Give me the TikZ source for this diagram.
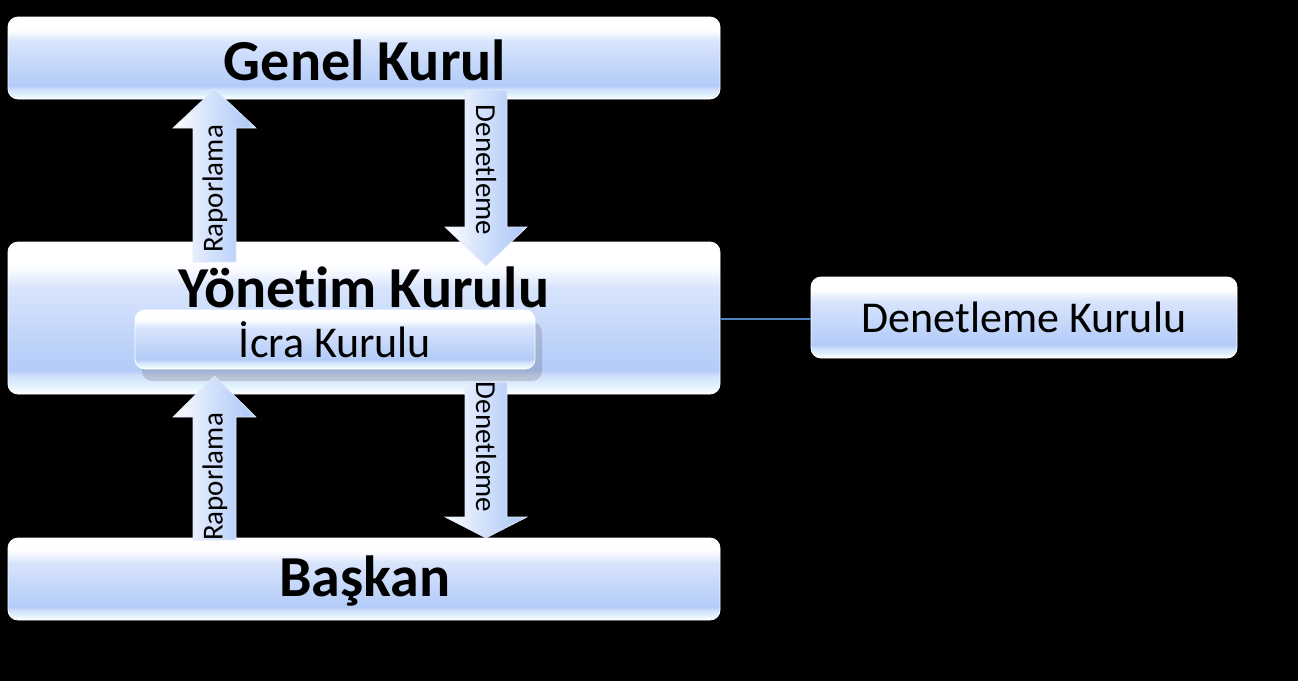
\documentclass[tikz,border=0pt]{standalone}
\usepackage{fontspec}
\setmainfont{Carlito}[Ligatures=NoCommon]
\usetikzlibrary{shadows}
\definecolor{boxblue}{RGB}{178,203,248}
\definecolor{boxlight}{RGB}{216,228,252}
\definecolor{linkblue}{RGB}{79,129,189}
\pgfdeclareverticalshading{gloss}{100bp}{color(0bp)=(white); color(25bp)=(white); color(28bp)=(white!90!cyan!50!boxlight); color(31bp)=(white!40!boxblue); color(33bp)=(boxblue); color(60bp)=(boxlight); color(66bp)=(white!85!boxlight); color(68bp)=(white); color(100bp)=(white)}
\pgfdeclarehorizontalshading{arrowgloss}{100bp}{color(0bp)=(white); color(25bp)=(white); color(45bp)=(boxlight); color(70bp)=(boxblue); color(75bp)=(white!40!boxblue); color(100bp)=(white)}
\tikzset{
  glossbox/.style={rectangle, rounded corners=10pt, draw=white, line width=0.8pt,
    shading=gloss, inner sep=0pt},
  bigtext/.style={font=\fontsize{58}{64}\selectfont\bfseries, text=black},
  midtext/.style={font=\fontsize{44}{50}\selectfont, text=black},
  arrowtext/.style={font=\fontsize{29}{34}\selectfont, text=black, inner sep=0pt},
  blockarrow/.style={draw=white!60!boxblue, line width=0.6pt, shading=arrowgloss},
  link/.style={draw=linkblue, line width=1.2pt}
}
\begin{document}
\begin{tikzpicture}[x=1pt,y=-1pt]
\fill[black] (0,0) rectangle (1298,681);
\useasboundingbox (0,0) rectangle (1298,681);
% boxes
\node[glossbox, minimum width=712pt, minimum height=82pt] (gk) at (364,58) {};
\node[bigtext] (gktext) at (365,60) {Genel Kurul};
\node[glossbox, minimum width=712pt, minimum height=152pt] (yk) at (364,318) {};
\node[bigtext] (yktext) at (364,287) {Yönetim Kurulu};
\node[glossbox, minimum width=400pt, minimum height=59pt,
  drop shadow={shadow xshift=7pt, shadow yshift=-12pt, opacity=0.18, fill=black!80}] (ik) at (335,339.5) {};
\node[midtext] (iktext) at (335,340) {İcra Kurulu};
\node[glossbox, minimum width=712pt, minimum height=82pt] (bk) at (364,579) {};
\node[bigtext] (bktext) at (365,581) {Başkan};
\node[glossbox, minimum width=426pt, minimum height=81pt, midtext] (dk) at (1024,317.5) {Denetleme Kurulu};
% connector
\draw[link] (yk.east |- 0,319) -- (dk.west |- 0,319);
% block arrows
\path[blockarrow] (193,262) -- (193,128) -- (173,128) -- (214.5,89) -- (256,128) -- (236,128) -- (236,262) -- cycle;
\node[arrowtext, rotate=90] (r1) at (215,189) {Raporlama};
\path[blockarrow] (465,90) -- (465,227) -- (445,227) -- (486,266) -- (527,227) -- (507,227) -- (507,90) -- cycle;
\node[arrowtext, rotate=-90] (d1) at (486,170) {Denetleme};
\path[blockarrow] (193,540) -- (193,417) -- (173,417) -- (214.5,376) -- (256,417) -- (236,417) -- (236,540) -- cycle;
\node[arrowtext, rotate=90] (r2) at (215,477) {Raporlama};
\path[blockarrow] (465,382) -- (465,517) -- (445,517) -- (486,538) -- (527,517) -- (507,517) -- (507,382) -- cycle;
\node[arrowtext, rotate=-90] (d2) at (486,447) {Denetleme};
\end{tikzpicture}
\end{document}
